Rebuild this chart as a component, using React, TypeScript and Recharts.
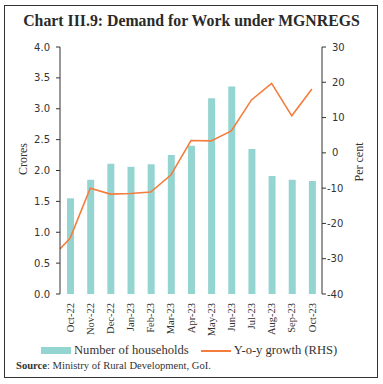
import { ComposedChart, Bar, Line, XAxis, YAxis, Label } from 'recharts'

const months = ['Oct-22', 'Nov-22', 'Dec-22', 'Jan-23', 'Feb-23', 'Mar-23', 'Apr-23', 'May-23', 'Jun-23', 'Jul-23', 'Aug-23', 'Sep-23', 'Oct-23']
const households = [1.55, 1.85, 2.11, 2.06, 2.1, 2.25, 2.4, 3.17, 3.36, 2.35, 1.91, 1.85, 1.83]
const growth = [-24.2, -10.0, -11.7, -11.5, -11.1, -6.3, 3.5, 3.4, 6.2, 15.0, 19.7, 10.5, 18.1]
// the line enters the plot already running in from the left edge
const growthEdge = -27.2

const leftTicks = [0, 0.5, 1, 1.5, 2, 2.5, 3, 3.5, 4]
const rightTicks = [-40, -30, -20, -10, 0, 10, 20, 30]

const BAR = '#94d4d1'
const LINE = '#f47c3c'
const INK = '#333'
const SERIF = '"Liberation Serif", "DejaVu Serif", serif'
const SANS = '"DejaVu Sans", sans-serif'

const barData = months.map((m, i) => ({ x: i, households: households[i] }))
const lineData = [{ x: -0.5, growth: growthEdge }, ...growth.map((g, i) => ({ x: i, growth: g }))]
const catTicks = months.map((_, i) => i)
const edgeTicks = [...months.map((_, i) => i - 0.5), months.length - 0.5]

function MonthTick(props: any) {
  const { x, y, payload } = props
  return (
    <g transform={`translate(${x},${y})`}>
      <text transform="rotate(-90)" textAnchor="end" dy="0.34em" fontFamily={SERIF} fontSize={10.5} fill={INK}>
        {months[payload.value]}
      </text>
    </g>
  )
}

export default function App() {
  return (
    <div style={{ position: 'fixed', left: 0, top: 0, width: 383, height: 384, background: '#fff' }}>
      <div style={{ position: 'absolute', left: 4, top: 5, width: 372, height: 371, border: '1.5px solid #333' }} />
      <div style={{ position: 'absolute', left: 0, width: 383, top: 12, textAlign: 'center', fontFamily: SERIF, fontWeight: 'bold', fontSize: 15.8, color: '#2a2a2a', paddingLeft: 0 }}>
        Chart III.9: Demand for Work under MGNREGS
      </div>
      <ComposedChart width={383} height={384} data={barData} margin={{ top: 47, right: 0, bottom: 0, left: 0 }} style={{ position: 'absolute', left: 0, top: 0 }}>
        <XAxis xAxisId="edge" type="number" dataKey="x" domain={[-0.5, 12.5]} ticks={edgeTicks} tick={false} tickSize={4} height={0} stroke={INK} allowDataOverflow />
        <XAxis xAxisId="cat" type="number" dataKey="x" domain={[-0.5, 12.5]} ticks={catTicks} interval={0} tick={<MonthTick />} tickLine={false} axisLine={false} tickSize={4} tickMargin={5} height={90} allowDataOverflow />
        <YAxis yAxisId="left" width={60} domain={[0, 4]} ticks={leftTicks} interval={0} tickFormatter={(v: number) => v.toFixed(1)} tickSize={4} tickMargin={6} stroke={INK} tick={{ fontFamily: SANS, fontSize: 10, fill: INK }}>
          <Label content={() => (
            <text x={27} y={159} transform="rotate(-90 27 159)" textAnchor="middle" fontFamily={SERIF} fontSize={12} fill={INK}>Crores</text>
          )} />
        </YAxis>
        <YAxis yAxisId="right" orientation="right" width={61} domain={[-40, 30]} ticks={rightTicks} interval={0} tickFormatter={(v: number) => (v < 0 ? `-${Math.abs(v)}` : `\u2002${v}`)} tickSize={4} tickMargin={1} stroke={INK} tick={{ fontFamily: SANS, fontSize: 10, fill: INK, textAnchor: 'start' }}>
          <Label content={() => (
            <text x={363} y={162} transform="rotate(-90 363 162)" textAnchor="middle" fontFamily={SERIF} fontSize={12} fill={INK}>Per cent</text>
          )} />
        </YAxis>
        <Bar xAxisId="edge" yAxisId="left" dataKey="households" fill={BAR} barSize={7} isAnimationActive={false} />
        <Line xAxisId="edge" yAxisId="right" data={lineData} dataKey="growth" stroke={LINE} strokeWidth={1.6} dot={false} isAnimationActive={false} />
      </ComposedChart>
      <div style={{ position: 'absolute', left: 41, top: 343, fontFamily: SERIF, fontSize: 12.6, color: INK, whiteSpace: 'nowrap' }}>
        <span style={{ display: 'inline-block', width: 30, height: 7, background: BAR, marginRight: 3 }} />
        Number of households
        <span style={{ display: 'inline-block', width: 30, height: 2, background: LINE, marginLeft: 12, marginRight: 3, verticalAlign: 'middle' }} />
        Y-o-y growth (RHS)
      </div>
      <div style={{ position: 'absolute', left: 16, top: 360, fontFamily: SERIF, fontSize: 10.6, color: INK, whiteSpace: 'nowrap' }}>
        <b>Source</b>: Ministry of Rural Development, GoI.
      </div>
    </div>
  )
}
